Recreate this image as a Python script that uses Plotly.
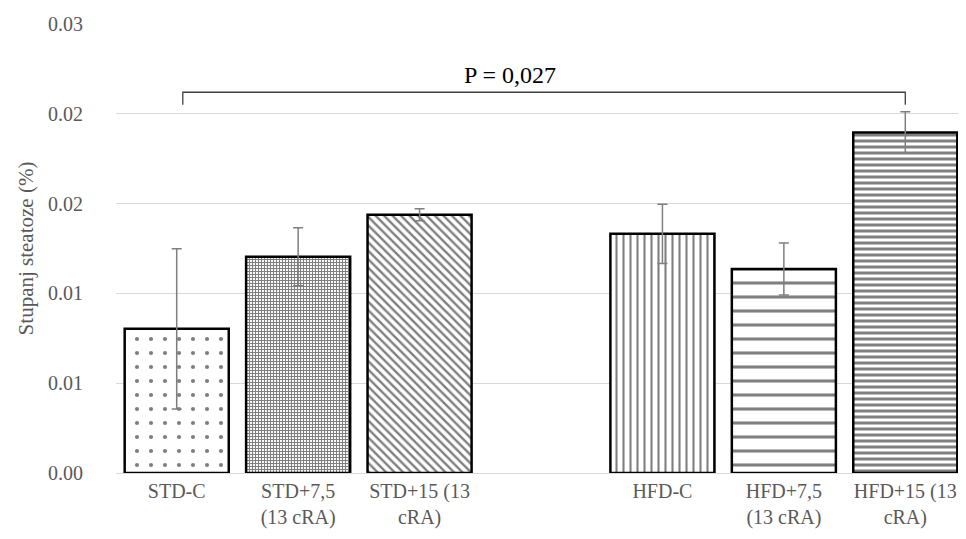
import plotly.graph_objects as go

categories = ["STD-C", "STD+7,5<br>(13 cRA)", "STD+15 (13<br>cRA)", " ", "HFD-C", "HFD+7,5<br>(13 cRA)", "HFD+15 (13<br>cRA)"]
values = [0.00803, 0.01204, 0.01438, None, 0.01332, 0.01136, 0.01896]
errors = [0.00446, 0.00162, 0.00033, None, 0.00165, 0.00145, 0.00115]
tick_vals = [0.0, 0.005, 0.010, 0.015, 0.020, 0.025]
tick_text = ["0.00", "0.01", "0.01", "0.02", "0.02", "0.03"]
p_label = "P = 0,027"

pat_shapes = [".", "+", "\\", "", "|", "-", "-"]
pat_sizes = [14, 3, 6, 8, 7, 14, 6]
pat_solid = [0.07, 0.6, 0.4, 0.3, 0.3, 0.22, 0.5]

serif = "Times New Roman, Liberation Serif, DejaVu Serif, serif"

fig = go.Figure()
fig.add_trace(go.Bar(
    x=categories,
    y=values,
    marker=dict(
        color="white",
        line=dict(color="black", width=2.5),
        pattern=dict(shape=pat_shapes, size=pat_sizes, solidity=pat_solid,
                     fgcolor="black", bgcolor="white", fillmode="overlay"),
    ),
    error_y=dict(type="data", array=errors, visible=True,
                 color="#7f7f7f", thickness=1.5, width=5),
    showlegend=False,
))

# significance bracket between first and last groups
i0, i1 = 0.05, len(categories) - 1
y_top = 0.0212
y_drop = 0.0205
fig.add_shape(type="path", xref="x", yref="y",
              path=f"M {i0},{y_drop} L {i0},{y_top} L {i1},{y_top} L {i1},{y_drop}",
              line=dict(color="#404040", width=1.3))
fig.add_annotation(x=(i0 + i1) / 2 - 0.28, y=y_top, yref="y", xref="x",
                   text=p_label, showarrow=False, yanchor="bottom", yshift=2,
                   font=dict(family=serif, size=24, color="black"))

# page body has an 8px default margin, so shrink the figure accordingly
fig.update_layout(
    width=958, height=531,
    margin=dict(l=108, r=0, t=16, b=66),
    plot_bgcolor="white", paper_bgcolor="white",
    bargap=0.143,
    xaxis=dict(
        type="category",
        showgrid=False, showline=True, linecolor="#d9d9d9", linewidth=1,
        ticks="", tickfont=dict(family=serif, size=20, color="#595959"),
    ),
    yaxis=dict(
        range=[0, 0.025],
        tickvals=tick_vals, ticktext=tick_text,
        showgrid=True, gridcolor="#d9d9d9", gridwidth=1,
        zeroline=False, showline=False,
        tickfont=dict(family=serif, size=20, color="#595959"),
        ticklabelstandoff=32,
        title=dict(text="Stupanj steatoze (%)", font=dict(family=serif, size=21, color="#595959"),
                   standoff=8),
    ),
)

fig.write_html("out.html")
